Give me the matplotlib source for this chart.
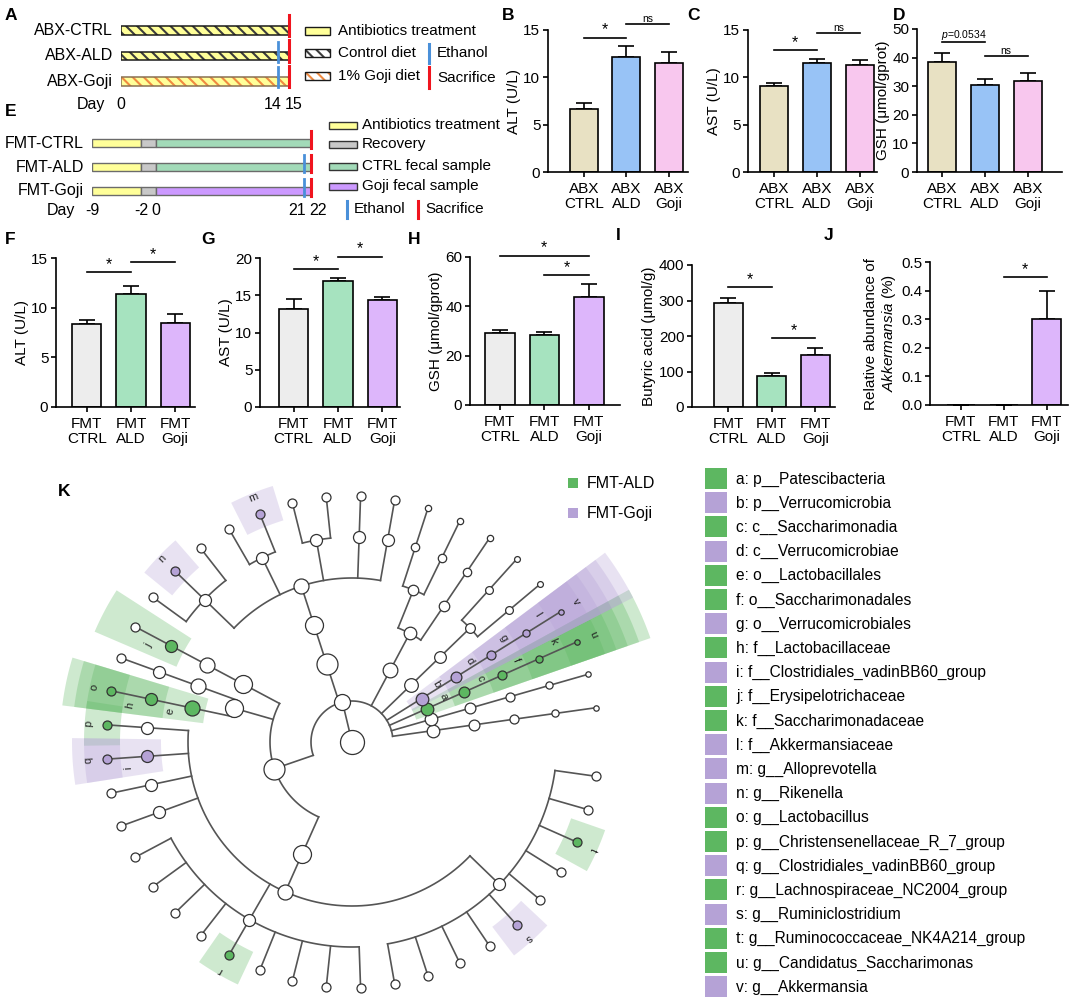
import numpy as np
import matplotlib
matplotlib.use('Agg')
import matplotlib.pyplot as plt
import matplotlib.transforms as mtransforms
from matplotlib.patches import Rectangle, Polygon
from matplotlib.lines import Line2D

plt.rcParams['font.family'] = ['Liberation Sans', 'DejaVu Sans']
plt.rcParams['mathtext.fontset'] = 'custom'
plt.rcParams['mathtext.rm'] = 'Liberation Sans'
plt.rcParams['mathtext.it'] = 'Liberation Sans:italic'
plt.rcParams['hatch.linewidth'] = 1.5
plt.rcParams['axes.linewidth'] = 1.2

# ---------------- data ----------------
# A: antibiotic model timeline (days)
abx_groups = ['ABX-CTRL', 'ABX-ALD', 'ABX-Goji']
abx_diet = ['Control', 'Control', 'Goji']
abx_end = 15
abx_ethanol = [None, 14, 14]
abx_sacrifice = 15
abx_day_ticks = [0, 14, 15]

# E: FMT timeline (days)
fmt_groups = ['FMT-CTRL', 'FMT-ALD', 'FMT-Goji']
fmt_phase_days = [-9, -2, 0, 22]
fmt_sample = ['CTRL', 'CTRL', 'Goji']
fmt_ethanol = [None, 21, 21]
fmt_sacrifice = 22
fmt_day_ticks = [-9, -2, 0, 21, 22]

abx_names = ['ABX\nCTRL', 'ABX\nALD', 'ABX\nGoji']
fmt_names = ['FMT\nCTRL', 'FMT\nALD', 'FMT\nGoji']

alt_abx = [6.7, 12.1, 11.5]
alt_abx_err = [0.6, 1.2, 1.2]
ast_abx = [9.1, 11.5, 11.3]
ast_abx_err = [0.3, 0.45, 0.5]
gsh_abx = [38.6, 30.4, 31.8]
gsh_abx_err = [3.0, 2.1, 2.9]

alt_fmt = [8.35, 11.4, 8.45]
alt_fmt_err = [0.45, 0.8, 0.9]
ast_fmt = [13.1, 16.9, 14.35]
ast_fmt_err = [1.35, 0.35, 0.35]
gsh_fmt = [29.0, 28.3, 43.8]
gsh_fmt_err = [1.6, 1.2, 5.1]
but_fmt = [292, 87, 146]
but_fmt_err = [16, 9, 20]
akk_fmt = [0.0, 0.0, 0.3]
akk_fmt_err = [0.0, 0.0, 0.1]

# significance bars: (group i, group j, height, text)
sig_b = [(0, 1, 14.2, '*'), (1, 2, 15.6, 'ns')]
sig_c = [(0, 1, 12.9, '*'), (1, 2, 14.65, 'ns')]
sig_d = [(0, 1, 45.4, '$\\it{p}$=0.0534'), (1, 2, 40.4, 'ns')]
sig_f = [(0, 1, 13.55, '*'), (1, 2, 14.55, '*')]
sig_g = [(0, 1, 18.5, '*'), (1, 2, 20.2, '*')]
sig_h = [(0, 2, 60.6, '*'), (1, 2, 52.8, '*')]
sig_i = [(0, 1, 339, '*'), (1, 2, 195, '*')]
sig_j = [(1, 2, 0.447, '*')]

# K: LEfSe biomarkers
letters = list('abcdefghijklmnopqrstuv')
taxa = ['p__Patescibacteria', 'p__Verrucomicrobia', 'c__Saccharimonadia',
        'c__Verrucomicrobiae', 'o__Lactobacillales', 'o__Saccharimonadales',
        'o__Verrucomicrobiales', 'f__Lactobacillaceae',
        'f__Clostridiales_vadinBB60_group', 'f__Erysipelotrichaceae',
        'f__Saccharimonadaceae', 'f__Akkermansiaceae', 'g__Alloprevotella',
        'g__Rikenella', 'g__Lactobacillus', 'g__Christensenellaceae_R_7_group',
        'g__Clostridiales_vadinBB60_group', 'g__Lachnospiraceae_NC2004_group',
        'g__Ruminiclostridium', 'g__Ruminococcaceae_NK4A214_group',
        'g__Candidatus_Saccharimonas', 'g__Akkermansia']
taxa_group = ['ALD', 'Goji', 'ALD', 'Goji', 'ALD', 'ALD', 'Goji', 'ALD', 'Goji',
              'ALD', 'ALD', 'Goji', 'Goji', 'Goji', 'ALD', 'ALD', 'Goji', 'ALD',
              'Goji', 'ALD', 'ALD', 'Goji']


def clade(letter='', *kids):
    return (letter, list(kids))


leaf = clade
# taxonomy tree, children in counter-clockwise order
tree = clade('',
    clade('', clade('', clade('', clade('', leaf())))),
    clade('', clade('', clade('', clade('', leaf())))),
    clade('a', clade('c', clade('f', clade('k', leaf('u'))))),
    clade('b', clade('d', clade('g', clade('l', leaf('v'))))),
    clade('', clade('', clade('', clade('', leaf()), clade('', leaf())))),
    clade('', clade('', clade('', clade('', leaf())),
                    clade('', clade('', leaf()), clade('', leaf())))),
    clade('', clade('', clade('',
        clade('', leaf()),
        clade('', leaf()),
        clade('', leaf(), leaf()),
        clade('', leaf('m'), leaf()),
        clade('', leaf(), leaf('n'), leaf())))),
    clade('',
        clade('', clade('', clade('j', leaf()))),
        clade('', clade('', clade('', leaf())), clade('e', clade('h', leaf('o')))),
        clade('', clade('',
            clade('', leaf('p')),
            clade('i', leaf('q')),
            clade('', leaf()),
            clade('', leaf()),
            clade('', leaf(), leaf(), leaf(), leaf(), leaf('r'), leaf(), leaf(), leaf(), leaf()),
            clade('', leaf(), leaf(), leaf(), leaf(), leaf('s'), leaf(), leaf(), leaf('t'), leaf(), leaf())))),
)

# ---------------- styles ----------------
YELLOW = '#FFFF99'
ROW1 = ['#E8E1C3', '#98C3F6', '#F8C7EE']
ROW2 = ['#EDEDED', '#A6E3BF', '#DDB6FB']
E_COL = {'abx': '#FFFF99', 'rec': '#C8C8C8', 'CTRL': '#A2DAB8', 'Goji': '#CC99FF'}
BLUE = '#4A90D9'
RED = '#F0141E'
GREEN = '#5DB761'
PURPLE = '#B5A2D6'
GCOL = {'ALD': GREEN, 'Goji': PURPLE}

W, H = 1084, 998
fig = plt.figure(figsize=(W / 100, H / 100), dpi=100)
px = mtransforms.Affine2D().scale(1 / W, -1 / H).translate(0, 1) + fig.transFigure


def add_ax(x0, y0, x1, y1):
    return fig.add_axes([x0 / W, 1 - y1 / H, (x1 - x0) / W, (y1 - y0) / H])


def ptext(x, y, s, **kw):
    kw.setdefault('fontsize', 11)
    kw.setdefault('va', 'center')
    fig.text(x, y, s, transform=px, **kw)


def prect(x, y, w, h, **kw):
    fig.add_artist(Rectangle((x, y), w, h, transform=px, **kw))


def pline(xs, ys, **kw):
    fig.add_artist(Line2D(xs, ys, transform=px, **kw))


# panel letters
for s, x, y in [('A', 5, 15), ('B', 502, 15), ('C', 687, 15), ('D', 893, 15),
                ('E', 5, 112), ('F', 5, 239), ('G', 201, 239), ('H', 408, 239),
                ('I', 616, 236), ('J', 824, 236), ('K', 58, 492)]:
    ptext(x, y, s, fontsize=12.5, fontweight='bold')

# ---------------- A: timeline ----------------
ax_a = add_ax(121, 18, 289, 94)
ax_a.set_xlim(0, abx_end)
ax_a.set_ylim(2.5, -0.5)
ax_a.axis('off')
for i, g in enumerate(abx_groups):
    hc = '#F08A40' if abx_diet[i] == 'Goji' else '#3C3C3C'
    ec = '#8A7050' if abx_diet[i] == 'Goji' else '#1A1A1A'
    ax_a.barh(i, abx_end, height=0.34, color=YELLOW, edgecolor=hc,
              hatch='\\\\\\', linewidth=0)
    ax_a.barh(i, abx_end, height=0.34, fill=False, edgecolor=ec, linewidth=1.1)
    if abx_ethanol[i] is not None:
        ax_a.plot([abx_ethanol[i]] * 2, [i + 0.22, i - 0.55], color=BLUE,
                  lw=2.0, clip_on=False)
    ax_a.plot([abx_sacrifice] * 2, [i + 0.22, i - 0.62], color=RED, lw=2.2,
              clip_on=False)
    ax_a.text(-0.7, i, g, ha='right', va='center', fontsize=11.5)
ppd_a = (289 - 121) / 15
ha_a = ['center', 'right', 'left']
for d, ha in zip(abx_day_ticks, ha_a):
    x = d if ha == 'center' else (d + 0.5 - 1.5 / ppd_a if ha == 'right' else d - 0.5 + 1.5 / ppd_a)
    ax_a.text(x, 2.92, str(d), ha=ha, va='center', fontsize=11.5)
ptext(91, 104, 'Day', ha='center', fontsize=11.5)

# legend A
prect(305, 27, 25, 8, facecolor=YELLOW, edgecolor='#1A1A1A', lw=1)
prect(305, 49, 25, 8, facecolor='white', edgecolor='#3C3C3C', hatch='\\\\\\', lw=0)
prect(305, 49, 25, 8, fill=False, edgecolor='#1A1A1A', lw=1)
prect(305, 72, 25, 8, facecolor='white', edgecolor='#F08A40', hatch='\\\\\\', lw=0)
prect(305, 72, 25, 8, fill=False, edgecolor='#1A1A1A', lw=1)
ptext(338, 31, 'Antibiotics treatment')
ptext(338, 53, 'Control diet')
ptext(338, 76, '1% Goji diet')
pline([429, 429], [44, 63], color=BLUE, lw=2.2)
ptext(437, 53, 'Ethanol')
pline([429, 429], [67, 88], color=RED, lw=2.2)
ptext(437, 78, 'Sacrifice')

# ---------------- E: timeline ----------------
ax_e = add_ax(92, 131, 311, 203)
ax_e.set_xlim(fmt_phase_days[0], fmt_phase_days[-1])
ax_e.set_ylim(2.5, -0.5)
ax_e.axis('off')
for i, g in enumerate(fmt_groups):
    cols = [E_COL['abx'], E_COL['rec'], E_COL[fmt_sample[i]]]
    for k in range(3):
        ax_e.barh(i, fmt_phase_days[k + 1] - fmt_phase_days[k], left=fmt_phase_days[k],
                  height=0.32, color=cols[k], edgecolor='#6B6B6B', linewidth=1.0)
    if fmt_ethanol[i] is not None:
        ax_e.plot([fmt_ethanol[i]] * 2, [i + 0.2, i - 0.48], color=BLUE, lw=2.0,
                  clip_on=False)
    ax_e.plot([fmt_sacrifice] * 2, [i + 0.2, i - 0.48], color=RED, lw=2.2,
              clip_on=False)
    ax_e.text(-10.1, i, g, ha='right', va='center', fontsize=11.5)
ppd_e = (311 - 92) / 31
ha_e = ['center', 'center', 'center', 'right', 'left']
for d, ha in zip(fmt_day_ticks, ha_e):
    x = d if ha == 'center' else (d + 0.5 - 1.5 / ppd_e if ha == 'right' else d - 0.5 + 1.5 / ppd_e)
    ax_e.text(x, 2.83, str(d), ha=ha, va='center', fontsize=11.5)
ptext(61, 211, 'Day', ha='center', fontsize=11.5)

# legend E
for y, c, s in [(125, E_COL['abx'], 'Antibiotics treatment'), (144, E_COL['rec'], 'Recovery'),
                (166, E_COL['CTRL'], 'CTRL fecal sample'), (186, E_COL['Goji'], 'Goji fecal sample')]:
    prect(329, y - 3.5, 28, 7, facecolor=c, edgecolor='#333333', lw=1)
    ptext(362, y, s)
pline([347, 347], [201, 218], color=BLUE, lw=2.2)
ptext(354, 209, 'Ethanol')
pline([418, 418], [201, 218], color=RED, lw=2.2)
ptext(425, 209, 'Sacrifice')


# ---------------- bar panels ----------------
def bar_panel(rect, xlim, ylim, yticks, ytl, means, errs, colors, names, ylabel, sigs):
    ax = add_ax(*rect)
    x = np.arange(len(means))
    ax.errorbar(x, means, yerr=[np.zeros(len(errs)), errs], fmt='none', ecolor='black',
                elinewidth=1.2, capsize=6, capthick=1.2, zorder=1)
    ax.bar(x, means, width=0.66, color=colors, edgecolor='black', linewidth=1.2, zorder=2)
    ax.set_xlim(*xlim)
    ax.set_ylim(*ylim)
    ax.set_yticks(yticks)
    ax.set_yticklabels(ytl)
    ax.set_xticks(x)
    ax.set_xticklabels(names, linespacing=1.05)
    ax.spines['top'].set_visible(False)
    ax.spines['right'].set_visible(False)
    ax.tick_params(direction='out', length=3.5, width=1.2, labelsize=11, pad=2)
    ax.tick_params(axis='x', pad=4)
    ax.set_ylabel(ylabel, fontsize=11, labelpad=2)
    for i, j, y, s in sigs:
        ax.plot([i, j], [y, y], color='black', lw=1.2, clip_on=False)
        fs = 11.5 if s == '*' else 7.5
        ax.text((i + j) / 2, y, s, ha='center', va='bottom', fontsize=fs, clip_on=False)
    return ax


def ticks(top, step):
    t = np.arange(0, top + step / 2, step)
    return t, [('%g' % v) for v in t]


t, tl = ticks(15, 5)
bar_panel((548, 30, 688, 172), (-0.85, 2.45), (0, 15), t, tl, alt_abx, alt_abx_err,
          ROW1, abx_names, 'ALT (U/L)', sig_b)
bar_panel((748, 30, 877, 172), (-0.6, 2.4), (0, 15), t, tl, ast_abx, ast_abx_err,
          ROW1, abx_names, 'AST (U/L)', sig_c)
t, tl = ticks(50, 10)
bar_panel((917, 29, 1062, 172), (-0.58, 2.8), (0, 50), t, tl, gsh_abx, gsh_abx_err,
          ROW1, abx_names, 'GSH (μmol/gprot)', sig_d)

t, tl = ticks(15, 5)
bar_panel((56, 258, 195, 407), (-0.7, 2.45), (0, 15), t, tl, alt_fmt, alt_fmt_err,
          ROW2, fmt_names, 'ALT (U/L)', sig_f)
t, tl = ticks(20, 5)
bar_panel((260, 258, 400, 407), (-0.76, 2.4), (0, 20), t, tl, ast_fmt, ast_fmt_err,
          ROW2, fmt_names, 'AST (U/L)', sig_g)
t, tl = ticks(60, 20)
bar_panel((470, 257, 620, 405), (-0.67, 2.7), (0, 60), t, tl, gsh_fmt, gsh_fmt_err,
          ROW2, fmt_names, 'GSH (μmol/gprot)', sig_h)
t, tl = ticks(400, 100)
bar_panel((692, 265, 835, 407), (-0.83, 2.45), (0, 400), t, tl, but_fmt, but_fmt_err,
          ROW2, fmt_names, 'Butyric acid (μmol/g)', sig_i)
t = np.arange(0, 0.55, 0.1)
bar_panel((930, 262, 1068, 405), (-0.72, 2.5), (0, 0.5), t, ['%.1f' % v for v in t],
          akk_fmt, akk_fmt_err, ROW2, fmt_names,
          'Relative abundance of\n$\\it{Akkermansia}$ (%)', sig_j)

# ---------------- K: cladogram ----------------
ax_k = add_ax(60, 455, 690, 998)
ax_k.set_xlim(60, 690)
ax_k.set_ylim(998, 455)
ax_k.axis('off')
CX, CY = 352, 742
R_STEP = 41
ANG_STEP = 8.0
NODE_PX = [16, 21, 18, 15, 12, 9]

letter_group = dict(zip(letters, taxa_group))
nodes = []
leaf_count = [0]


def count_leaves(node):
    return 1 if not node[1] else sum(count_leaves(k) for k in node[1])


def place(node, depth, scale):
    letter, kids = node
    if not kids:
        leaf_count[0] += 1
        a = ANG_STEP * leaf_count[0]
        rec = dict(a=a, d=depth, letter=letter, kids=[], lo=a, hi=a, scale=scale)
    else:
        recs = []
        for k in kids:
            sc = scale
            if depth == 0:
                sc = min(1.0, 0.55 + 0.05 * count_leaves(k))
            recs.append(place(k, depth + 1, sc))
        a = (recs[0]['a'] + recs[-1]['a']) / 2
        rec = dict(a=a, d=depth, letter=letter, kids=recs, lo=recs[0]['lo'],
                   hi=recs[-1]['hi'], scale=scale)
    nodes.append(rec)
    return rec


root = place(tree, 0, 1.0)


def pol(r, a):
    a = np.radians(a)
    return CX + r * np.cos(a), CY - r * np.sin(a)


def rad(d):
    return R_STEP * (d + 1)


# highlight wedges
for rec in nodes:
    if not rec['letter']:
        continue
    d = rec['d']
    lo = rec['lo'] - 0.6 * ANG_STEP
    hi = rec['hi'] + 0.6 * ANG_STEP
    r_in = rad(d) - 14
    r_out = rad(5) + 22 + (5 - d) * 12
    th = np.linspace(lo, hi, 40)
    xo, yo = pol(r_out, th)
    xi, yi = pol(r_in, th[::-1])
    poly = np.column_stack([np.r_[xo, xi], np.r_[yo, yi]])
    ax_k.add_patch(Polygon(poly, closed=True, facecolor=GCOL[letter_group[rec['letter']]],
                           edgecolor='none', alpha=0.3, zorder=1))

# branches
lc = '#555555'
x0, y0 = pol(rad(0), root['a'])
ax_k.plot([CX, x0], [CY, y0], color=lc, lw=1.2, zorder=2)
for rec in nodes:
    if not rec['kids']:
        continue
    r = rad(rec['d'])
    angs = [k['a'] for k in rec['kids']]
    th = np.linspace(min(angs), max(angs), 80)
    ax_k.plot(*pol(r, th), color=lc, lw=1.2, zorder=2)
    for k in rec['kids']:
        xs, ys = pol(np.array([r, rad(k['d'])]), k['a'])
        ax_k.plot(xs, ys, color=lc, lw=1.2, zorder=2)

# nodes
ax_k.scatter([CX], [CY], s=(24 * 0.72) ** 2, facecolor='white', edgecolor='#333333',
             linewidth=0.9, zorder=3)
for rec in nodes:
    x, y = pol(rad(rec['d']), rec['a'])
    size = NODE_PX[rec['d']] * rec['scale']
    fc = 'white'
    if rec['letter']:
        fc = GCOL[letter_group[rec['letter']]]
    ax_k.scatter([x], [y], s=(size * 0.72) ** 2, facecolor=fc, edgecolor='#333333',
                 linewidth=0.9, zorder=3)
    if rec['letter']:
        if rec['kids']:
            lx, ly = pol(rad(rec['d']) + 20, rec['a'] + 2.5)
        else:
            lx, ly = pol(rad(rec['d']) + 18, rec['a'])
        ax_k.text(lx, ly, rec['letter'], fontsize=8, ha='center', va='center',
                  rotation=rec['a'] - 90, rotation_mode='anchor', color='#222222', zorder=4)

# K group legend
prect(568, 478, 10, 10, facecolor=GREEN, edgecolor='none')
ptext(587, 483, 'FMT-ALD', fontsize=11.5)
prect(568, 508, 10, 10, facecolor=PURPLE, edgecolor='none')
ptext(587, 514, 'FMT-Goji', fontsize=11.5)

# K biomarker legend
for i, (l, name, g) in enumerate(zip(letters, taxa, taxa_group)):
    y = 479 + i * 24.2
    prect(705, y - 11, 22, 21, facecolor=GCOL[g], edgecolor='none')
    ptext(736, y, '%s: %s' % (l, name), fontsize=11.2)

fig.savefig('out.png', dpi=100)
